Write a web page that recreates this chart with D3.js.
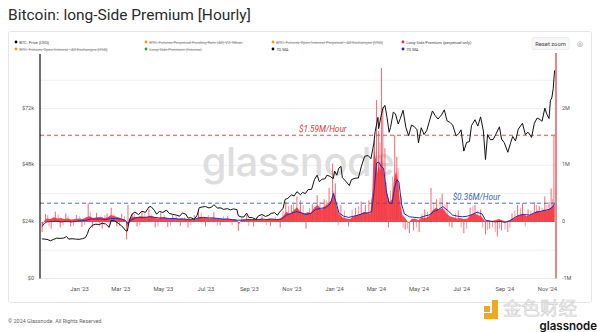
<!DOCTYPE html>
<html><head><meta charset="utf-8">
<script src="https://cdn.jsdelivr.net/npm/d3@7"></script>
<style>
html,body{margin:0;padding:0;background:#fff;}
svg{display:block;font-family:Roboto,Inter,"Noto Sans",sans-serif;}
</style></head>
<body><svg id="c" width="600" height="332"></svg>
<script>
// ---------- DATA ----------
const title = "Bitcoin: long-Side Premium [Hourly]";
const legendItems = [
  ["BTC: Price [USD]", "#000", false],
  ["BTC: Futures Perpetual Funding Rate (All) V2: Mean", "#f39c12", true],
  ["BTC: Futures Open Interest Perpetual - All Exchanges [USD]", "#f39c12", true],
  ["Long-Side Premium (perpetual only)", "#e8303a", false],
  ["BTC: Futures Open Interest - All Exchanges [USD]", "#f39c12", true],
  ["Long-Side Premium (futures)", "#2ca02c", true],
  ["7D MA", "#000", false],
  ["7D MA", "#2222aa", false]
];
const xTickLabels = ["Jan '23","Mar '23","May '23","Jul '23","Sep '23","Nov '23","Jan '24","Mar '24","May '24","Jul '24","Sep '24","Nov '24"];
const xTickDates = ["2023-01-01","2023-03-01","2023-05-01","2023-07-01","2023-09-01","2023-11-01","2024-01-01","2024-03-01","2024-05-01","2024-07-01","2024-09-01","2024-11-01"];
const leftTicks = [0, 24000, 48000, 72000];
const leftTickLabels = ["$0","$24k","$48k","$72k"];
const rightTicks = [-1e6, 0, 1e6, 2e6];
const rightTickLabels = ["-1M","0","1M","2M"];
const gridValues = [0,12000,24000,36000,48000,60000,72000,84000];
const refLines = [
  {value: 1.53e6, label: "$1.59M/Hour", color: "#e0353d", labelDate: "2023-11-12"},
  {value: 0.33e6, label: "$0.36M/Hour", color: "#3a5fc0", labelDate: "2024-06-19"}
];

// BTC price [USD]
const btcPrice = [
["2022-11-09",16800],["2022-11-12",16700],["2022-11-16",16600],["2022-11-21",16000],["2022-11-25",16500],
["2022-11-30",17100],["2022-12-05",17000],["2022-12-10",17150],["2022-12-14",17800],["2022-12-17",16700],
["2022-12-22",16850],["2022-12-27",16700],["2023-01-01",16600],["2023-01-06",16900],["2023-01-10",17300],
["2023-01-13",19000],["2023-01-15",20900],["2023-01-20",22600],["2023-01-25",23000],["2023-01-30",22900],
["2023-02-03",23400],["2023-02-08",23100],["2023-02-13",21700],["2023-02-16",24600],["2023-02-21",24400],
["2023-02-26",23400],["2023-03-03",22300],["2023-03-09",20200],["2023-03-11",20100],["2023-03-14",24700],
["2023-03-18",27300],["2023-03-22",28200],["2023-03-27",27100],["2023-04-01",28500],["2023-04-06",28000],
["2023-04-11",30300],["2023-04-14",30500],["2023-04-19",28800],["2023-04-22",27300],["2023-04-26",28400],
["2023-05-01",28000],["2023-05-06",29000],["2023-05-10",27600],["2023-05-15",27200],["2023-05-20",26900],
["2023-05-25",26400],["2023-05-29",27800],["2023-06-03",27200],["2023-06-06",25600],["2023-06-10",25800],
["2023-06-15",25100],["2023-06-19",26800],["2023-06-22",30000],["2023-06-26",30300],["2023-07-01",30500],
["2023-07-06",29900],["2023-07-10",30300],["2023-07-13",31300],["2023-07-18",29900],["2023-07-23",29900],
["2023-07-27",29300],["2023-08-01",29600],["2023-08-06",29100],["2023-08-10",29500],["2023-08-15",29200],
["2023-08-17",26600],["2023-08-21",26100],["2023-08-25",26100],["2023-08-29",27700],["2023-09-01",25900],
["2023-09-06",25800],["2023-09-11",25100],["2023-09-15",26600],["2023-09-20",27100],["2023-09-25",26300],
["2023-09-30",26900],["2023-10-03",27600],["2023-10-08",27900],["2023-10-12",26800],["2023-10-16",28500],
["2023-10-20",29600],["2023-10-23",33500],["2023-10-27",34000],["2023-11-01",35400],["2023-11-05",35000],
["2023-11-09",36800],["2023-11-14",35500],["2023-11-17",36500],["2023-11-21",36000],["2023-11-25",37700],
["2023-11-30",37800],["2023-12-04",41900],["2023-12-08",43800],["2023-12-11",41000],["2023-12-15",42100],
["2023-12-19",42200],["2023-12-22",43800],["2023-12-27",43200],["2023-12-31",42300],["2024-01-02",45500],
["2024-01-05",43800],["2024-01-08",46800],["2024-01-11",47500],["2024-01-13",42800],["2024-01-18",41200],
["2024-01-23",39400],["2024-01-26",41900],["2024-01-31",42500],["2024-02-05",42600],["2024-02-09",47300],
["2024-02-14",51800],["2024-02-19",52100],["2024-02-23",50800],["2024-02-27",57000],["2024-02-29",62200],
["2024-03-04",68300],["2024-03-05",63500],["2024-03-08",68300],["2024-03-11",72000],["2024-03-14",73400],
["2024-03-17",68300],["2024-03-20",62000],["2024-03-22",64000],["2024-03-26",70500],["2024-03-29",69800],
["2024-04-02",65500],["2024-04-05",67800],["2024-04-09",71300],["2024-04-13",64000],["2024-04-17",60500],
["2024-04-21",65000],["2024-04-25",64400],["2024-04-29",63000],["2024-05-01",57500],["2024-05-05",63900],
["2024-05-09",61000],["2024-05-13",62800],["2024-05-16",66000],["2024-05-21",71000],["2024-05-25",69000],
["2024-05-29",67600],["2024-06-03",69300],["2024-06-07",71500],["2024-06-11",66800],["2024-06-15",66200],
["2024-06-19",65000],["2024-06-24",60400],["2024-06-28",61500],["2024-07-01",63000],["2024-07-05",54000],
["2024-07-09",57700],["2024-07-13",58000],["2024-07-16",64800],["2024-07-21",67300],["2024-07-25",64600],
["2024-07-29",68500],["2024-08-02",62500],["2024-08-05",50400],["2024-08-08",61000],["2024-08-12",58800],
["2024-08-16",58900],["2024-08-20",61200],["2024-08-25",64300],["2024-08-28",59100],["2024-09-01",57500],
["2024-09-06",53500],["2024-09-10",57500],["2024-09-13",60200],["2024-09-17",58300],["2024-09-21",63300],
["2024-09-27",65800],["2024-10-01",61000],["2024-10-05",62000],["2024-10-10",59800],["2024-10-14",65800],
["2024-10-18",68000],["2024-10-22",67400],["2024-10-25",66600],["2024-10-29",72200],["2024-11-01",69500],
["2024-11-04",67800],["2024-11-06",75500],["2024-11-08",76500],["2024-11-10",80400],["2024-11-11",84500],
["2024-11-12",88200]
];

// Long-Side Premium (perpetual only) [$ / hour], base level
const premiumLevel = [
["2022-11-09",-0.10e6],["2022-11-12",0.02e6],["2022-11-16",0.06e6],["2022-11-21",0.05e6],["2022-11-26",0.08e6],
["2022-12-01",0.06e6],["2022-12-06",0.07e6],["2022-12-11",0.05e6],["2022-12-16",0.06e6],["2022-12-21",0.04e6],
["2022-12-26",0.05e6],["2023-01-01",0.06e6],["2023-01-06",0.05e6],["2023-01-11",0.08e6],["2023-01-16",0.10e6],
["2023-01-21",0.07e6],["2023-01-26",0.08e6],["2023-02-01",0.09e6],["2023-02-06",0.07e6],["2023-02-11",0.08e6],
["2023-02-16",0.12e6],["2023-02-21",0.10e6],["2023-02-26",0.08e6],["2023-03-03",0.06e6],["2023-03-08",0.03e6],
["2023-03-11",-0.10e6],["2023-03-14",0.06e6],["2023-03-19",0.09e6],["2023-03-24",0.08e6],["2023-03-29",0.10e6],
["2023-04-03",0.09e6],["2023-04-08",0.08e6],["2023-04-13",0.11e6],["2023-04-18",0.09e6],["2023-04-23",0.06e6],
["2023-04-28",0.07e6],["2023-05-03",0.08e6],["2023-05-08",0.06e6],["2023-05-13",0.05e6],["2023-05-18",0.06e6],
["2023-05-23",0.05e6],["2023-05-28",0.06e6],["2023-06-02",0.05e6],["2023-06-07",0.04e6],["2023-06-12",0.03e6],
["2023-06-17",0.04e6],["2023-06-22",0.09e6],["2023-06-27",0.08e6],["2023-07-02",0.07e6],["2023-07-07",0.06e6],
["2023-07-12",0.07e6],["2023-07-17",0.06e6],["2023-07-22",0.05e6],["2023-07-27",0.05e6],["2023-08-01",0.05e6],
["2023-08-06",0.04e6],["2023-08-11",0.04e6],["2023-08-16",0.03e6],["2023-08-18",-0.05e6],["2023-08-21",0.04e6],
["2023-08-26",0.04e6],["2023-08-31",0.05e6],["2023-09-05",0.04e6],["2023-09-10",0.04e6],["2023-09-15",0.05e6],
["2023-09-20",0.05e6],["2023-09-25",0.04e6],["2023-09-30",0.06e6],["2023-10-05",0.05e6],["2023-10-10",0.04e6],
["2023-10-15",0.05e6],["2023-10-20",0.10e6],["2023-10-25",0.18e6],["2023-10-30",0.14e6],["2023-11-04",0.20e6],
["2023-11-09",0.26e6],["2023-11-14",0.18e6],["2023-11-19",0.15e6],["2023-11-24",0.17e6],["2023-11-29",0.16e6],
["2023-12-04",0.26e6],["2023-12-09",0.30e6],["2023-12-14",0.22e6],["2023-12-19",0.28e6],["2023-12-24",0.32e6],
["2023-12-29",0.40e6],["2024-01-01",0.55e6],["2024-01-04",0.32e6],["2024-01-08",0.15e6],["2024-01-13",0.08e6],
["2024-01-19",0.06e6],["2024-01-24",0.05e6],["2024-01-29",0.10e6],["2024-02-03",0.12e6],["2024-02-08",0.14e6],
["2024-02-13",0.18e6],["2024-02-18",0.16e6],["2024-02-22",0.15e6],["2024-02-25",0.55e6],["2024-02-27",1.30e6],
["2024-03-01",1.10e6],["2024-03-03",0.85e6],["2024-03-05",1.05e6],["2024-03-07",0.90e6],["2024-03-09",1.20e6],
["2024-03-11",0.95e6],["2024-03-13",0.80e6],["2024-03-15",0.60e6],["2024-03-18",0.45e6],["2024-03-21",0.35e6],
["2024-03-24",0.40e6],["2024-03-27",0.75e6],["2024-03-30",0.90e6],["2024-04-02",0.70e6],["2024-04-05",0.30e6],
["2024-04-08",0.12e6],["2024-04-13",0.05e6],["2024-04-17",-0.02e6],["2024-04-21",0.05e6],["2024-04-26",0.06e6],
["2024-05-01",0.03e6],["2024-05-06",0.08e6],["2024-05-11",0.07e6],["2024-05-16",0.10e6],["2024-05-21",0.20e6],
["2024-05-26",0.25e6],["2024-05-31",0.22e6],["2024-06-05",0.24e6],["2024-06-10",0.15e6],["2024-06-15",0.10e6],
["2024-06-20",0.08e6],["2024-06-25",0.06e6],["2024-06-30",0.07e6],["2024-07-05",0.05e6],["2024-07-10",0.06e6],
["2024-07-15",0.12e6],["2024-07-20",0.15e6],["2024-07-25",0.12e6],["2024-07-30",0.10e6],["2024-08-04",0.02e6],
["2024-08-09",0.03e6],["2024-08-14",0.02e6],["2024-08-19",0.03e6],["2024-08-24",0.05e6],["2024-08-29",0.03e6],
["2024-09-03",0.01e6],["2024-09-08",0.03e6],["2024-09-13",0.06e6],["2024-09-18",0.08e6],["2024-09-23",0.12e6],
["2024-09-28",0.15e6],["2024-10-03",0.10e6],["2024-10-08",0.12e6],["2024-10-13",0.15e6],["2024-10-18",0.20e6],
["2024-10-23",0.18e6],["2024-10-28",0.22e6],["2024-11-02",0.20e6],["2024-11-06",0.25e6],["2024-11-10",0.28e6],
["2024-11-12",0.30e6]
];

// Long-Side Premium hourly extremes (major spikes)
const premiumSpikes = [
["2022-11-09",-0.18e6],["2022-11-14",0.14e6],["2022-11-22",-0.12e6],["2022-11-28",0.18e6],["2022-12-05",-0.10e6],
["2022-12-13",0.15e6],["2022-12-20",-0.08e6],["2022-12-28",0.12e6],["2023-01-05",-0.09e6],["2023-01-14",0.33e6],
["2023-01-20",-0.10e6],["2023-01-26",0.16e6],["2023-02-03",-0.12e6],["2023-02-10",0.15e6],["2023-02-16",0.25e6],
["2023-02-24",-0.08e6],["2023-03-03",0.14e6],["2023-03-10",-0.31e6],["2023-03-12",0.30e6],["2023-03-18",0.15e6],
["2023-03-25",-0.08e6],["2023-04-01",0.18e6],["2023-04-11",0.22e6],["2023-04-20",-0.10e6],["2023-04-28",0.16e6],
["2023-05-08",-0.09e6],["2023-05-15",0.12e6],["2023-05-26",-0.07e6],["2023-06-06",-0.10e6],["2023-06-15",0.12e6],
["2023-06-21",0.20e6],["2023-07-01",-0.08e6],["2023-07-13",0.17e6],["2023-07-22",-0.06e6],["2023-08-02",0.10e6],
["2023-08-17",-0.16e6],["2023-08-29",0.12e6],["2023-09-08",-0.08e6],["2023-09-20",0.10e6],["2023-10-02",-0.07e6],
["2023-10-16",-0.10e6],["2023-10-24",0.35e6],["2023-11-01",0.30e6],["2023-11-09",0.45e6],["2023-11-14",0.38e6],
["2023-11-22",-0.12e6],["2023-12-01",0.32e6],["2023-12-08",0.47e6],["2023-12-18",0.40e6],["2023-12-25",0.60e6],
["2023-12-30",1.03e6],["2024-01-03",0.68e6],["2024-01-11",0.30e6],["2024-01-22",-0.08e6],["2024-02-01",0.25e6],
["2024-02-09",0.36e6],["2024-02-15",0.30e6],["2024-02-20",0.38e6],["2024-02-28",1.45e6],["2024-03-02",2.15e6],
["2024-03-05",1.60e6],["2024-03-09",2.72e6],["2024-03-11",2.03e6],["2024-03-14",1.30e6],["2024-03-19",-0.10e6],
["2024-03-28",1.53e6],["2024-03-31",1.15e6],["2024-04-06",0.45e6],["2024-04-12",-0.14e6],["2024-04-18",-0.20e6],
["2024-04-24",-0.15e6],["2024-05-02",-0.18e6],["2024-05-10",0.22e6],["2024-05-19",0.60e6],["2024-05-27",0.40e6],
["2024-06-04",0.50e6],["2024-06-11",0.35e6],["2024-06-18",-0.10e6],["2024-06-27",0.20e6],["2024-07-05",-0.20e6],
["2024-07-14",0.25e6],["2024-07-21",0.30e6],["2024-07-29",0.22e6],["2024-08-05",-0.22e6],["2024-08-11",-0.12e6],
["2024-08-22",-0.26e6],["2024-08-28",-0.15e6],["2024-09-06",-0.18e6],["2024-09-12",0.15e6],["2024-09-20",0.30e6],
["2024-09-27",0.33e6],["2024-10-05",0.22e6],["2024-10-14",0.35e6],["2024-10-21",0.28e6],["2024-10-29",0.45e6],
["2024-11-04",0.35e6],["2024-11-07",0.59e6],["2024-11-11",1.52e6]
];
// Long-Side Premium hourly extremes (minor spikes)
const premiumSpikesMinor = [
["2022-11-17",0.12e6],["2022-11-19",-0.08e6],["2022-12-02",0.13e6],["2022-12-09",-0.06e6],["2022-12-16",0.11e6],
["2022-12-24",-0.07e6],["2023-01-02",0.10e6],["2023-01-09",-0.06e6],["2023-01-17",0.18e6],["2023-01-30",-0.08e6],
["2023-02-07",0.12e6],["2023-02-13",-0.10e6],["2023-02-20",0.14e6],["2023-02-28",-0.07e6],["2023-03-07",0.10e6],
["2023-03-21",0.14e6],["2023-03-29",-0.06e6],["2023-04-05",0.15e6],["2023-04-15",0.13e6],["2023-04-24",-0.08e6],
["2023-05-03",0.12e6],["2023-05-12",-0.07e6],["2023-05-20",0.10e6],["2023-06-01",0.08e6],["2023-06-10",-0.06e6],
["2023-06-25",0.16e6],["2023-07-05",0.12e6],["2023-07-18",-0.07e6],["2023-07-27",0.10e6],["2023-08-08",-0.06e6],
["2023-08-22",0.08e6],["2023-09-01",-0.07e6],["2023-09-13",0.09e6],["2023-09-26",-0.06e6],["2023-10-09",0.09e6],
["2023-10-20",0.20e6],["2023-10-28",0.28e6],["2023-11-04",0.32e6],["2023-11-18",0.30e6],["2023-11-27",0.25e6],
["2023-12-12",0.35e6],["2023-12-21",0.38e6],["2024-01-07",-0.06e6],["2024-01-16",0.20e6],["2024-01-27",0.22e6],
["2024-02-05",0.28e6],["2024-02-24",0.40e6],["2024-03-07",1.40e6],["2024-03-16",0.70e6],["2024-03-22",0.55e6],
["2024-03-25",0.80e6],["2024-04-02",0.95e6],["2024-04-09",-0.10e6],["2024-04-15",-0.12e6],["2024-04-28",-0.10e6],
["2024-05-06",0.15e6],["2024-05-14",0.18e6],["2024-05-23",0.35e6],["2024-06-01",0.42e6],["2024-06-08",0.30e6],
["2024-06-14",-0.08e6],["2024-06-23",0.15e6],["2024-07-01",-0.10e6],["2024-07-09",-0.12e6],["2024-07-18",0.28e6],
["2024-07-25",0.20e6],["2024-08-01",-0.10e6],["2024-08-08",-0.15e6],["2024-08-15",-0.10e6],["2024-08-19",-0.18e6],
["2024-08-25",-0.12e6],["2024-09-02",-0.14e6],["2024-09-09",-0.10e6],["2024-09-16",0.20e6],["2024-09-24",0.25e6],
["2024-10-01",-0.08e6],["2024-10-09",0.20e6],["2024-10-17",0.30e6],["2024-10-25",0.25e6],["2024-11-01",0.30e6],
["2024-11-09",0.40e6]
];

// 7D MA of Long-Side Premium
const premiumMA = [
["2022-11-09",-0.08e6],["2022-11-12",-0.03e6],["2022-11-16",0.00e6],["2022-11-23",0.01e6],["2022-11-30",0.01e6],
["2022-12-07",0.00e6],["2022-12-14",0.01e6],["2022-12-21",0.00e6],["2022-12-28",0.01e6],["2023-01-04",0.02e6],
["2023-01-11",0.03e6],["2023-01-18",0.05e6],["2023-01-25",0.05e6],["2023-02-01",0.05e6],["2023-02-08",0.04e6],
["2023-02-15",0.06e6],["2023-02-22",0.06e6],["2023-03-01",0.05e6],["2023-03-08",0.03e6],["2023-03-12",-0.03e6],
["2023-03-16",0.03e6],["2023-03-22",0.07e6],["2023-03-29",0.08e6],["2023-04-05",0.08e6],["2023-04-12",0.09e6],
["2023-04-19",0.08e6],["2023-04-26",0.07e6],["2023-05-03",0.07e6],["2023-05-10",0.06e6],["2023-05-17",0.06e6],
["2023-05-24",0.05e6],["2023-05-31",0.05e6],["2023-06-07",0.04e6],["2023-06-14",0.04e6],["2023-06-21",0.07e6],
["2023-06-28",0.08e6],["2023-07-05",0.07e6],["2023-07-12",0.07e6],["2023-07-19",0.06e6],["2023-07-26",0.05e6],
["2023-08-02",0.05e6],["2023-08-09",0.04e6],["2023-08-16",0.03e6],["2023-08-23",0.03e6],["2023-08-30",0.04e6],
["2023-09-06",0.04e6],["2023-09-13",0.04e6],["2023-09-20",0.05e6],["2023-09-27",0.04e6],["2023-10-04",0.05e6],
["2023-10-11",0.04e6],["2023-10-18",0.05e6],["2023-10-25",0.12e6],["2023-11-01",0.15e6],["2023-11-08",0.18e6],
["2023-11-15",0.16e6],["2023-11-22",0.13e6],["2023-11-29",0.15e6],["2023-12-06",0.22e6],["2023-12-13",0.24e6],
["2023-12-20",0.25e6],["2023-12-27",0.32e6],["2023-12-31",0.50e6],["2024-01-04",0.35e6],["2024-01-08",0.16e6],
["2024-01-15",0.10e6],["2024-01-22",0.08e6],["2024-01-29",0.10e6],["2024-02-05",0.12e6],["2024-02-12",0.15e6],
["2024-02-19",0.16e6],["2024-02-24",0.18e6],["2024-02-28",0.60e6],["2024-03-02",1.04e6],["2024-03-05",1.06e6],
["2024-03-09",0.97e6],["2024-03-12",0.95e6],["2024-03-16",0.55e6],["2024-03-20",0.33e6],["2024-03-24",0.32e6],
["2024-03-28",0.60e6],["2024-03-31",0.75e6],["2024-04-03",0.70e6],["2024-04-07",0.30e6],["2024-04-11",0.14e6],
["2024-04-18",0.09e6],["2024-04-25",0.08e6],["2024-05-02",0.07e6],["2024-05-09",0.10e6],["2024-05-16",0.12e6],
["2024-05-23",0.18e6],["2024-05-30",0.22e6],["2024-06-05",0.27e6],["2024-06-12",0.20e6],["2024-06-19",0.12e6],
["2024-06-26",0.10e6],["2024-07-03",0.09e6],["2024-07-10",0.10e6],["2024-07-17",0.13e6],["2024-07-24",0.17e6],
["2024-07-31",0.14e6],["2024-08-05",0.03e6],["2024-08-12",0.01e6],["2024-08-19",0.00e6],["2024-08-26",0.01e6],
["2024-09-02",-0.01e6],["2024-09-09",0.02e6],["2024-09-16",0.08e6],["2024-09-23",0.12e6],["2024-09-30",0.13e6],
["2024-10-07",0.12e6],["2024-10-14",0.16e6],["2024-10-21",0.18e6],["2024-10-28",0.20e6],["2024-11-04",0.22e6],
["2024-11-08",0.25e6],["2024-11-12",0.32e6]
];

// ---------- DRAW ----------
const parse = d3.utcParse("%Y-%m-%d");
const svg = d3.select("#c");
const P = {left: 40, right: 556, top: 52, bottom: 278.5};

const x = d3.scaleUtc().domain([parse("2022-11-06"), parse("2024-11-14")]).range([P.left, P.right]);
const yL = d3.scaleLinear().domain([0, 96000]).range([P.bottom, P.top]);
const yR = d3.scaleLinear().domain([-1e6, 3e6]).range([P.bottom, P.top]);

// title
svg.append("text").attr("x", 8).attr("y", 19.5).attr("font-size", 15.5).attr("fill", "#2b2b2b")
  .attr("font-family", "Roboto, sans-serif").text(title);

// card
svg.append("rect").attr("x", 8.5).attr("y", 31.5).attr("width", 583).attr("height", 271)
  .attr("fill", "#fff").attr("stroke", "#e6e6e6").attr("rx", 2);

// legend
const lg = svg.append("g").attr("font-size", 4.1).attr("fill", "#555");
const colX = [16, 146, 273, 403];
legendItems.forEach((it, i) => {
  const row = i < 4 ? 0 : 1, col = i % 4;
  const gx = colX[col], gy = row === 0 ? 42 : 49;
  lg.append("circle").attr("cx", gx).attr("cy", gy).attr("r", 1.4).attr("fill", it[1]);
  lg.append("text").attr("x", gx + 3.2).attr("y", gy + 1.5).text(it[0])
    .attr("text-decoration", it[2] ? "line-through" : null).attr("fill", it[2] ? "#888" : "#444");
});
// reset zoom button
svg.append("rect").attr("x", 532).attr("y", 37.5).attr("width", 37).attr("height", 12).attr("rx", 2)
  .attr("fill", "#f7f7f7").attr("stroke", "#eee");
svg.append("text").attr("x", 550.5).attr("y", 45.8).attr("text-anchor", "middle").attr("font-size", 5.8)
  .attr("fill", "#444").text("Reset zoom");
svg.append("text").attr("x", 580).attr("y", 46).attr("text-anchor", "middle").attr("font-size", 7)
  .attr("fill", "#777").text("◎");

// grid
svg.append("g").selectAll("line").data(gridValues.filter(v => v > 0)).join("line")
  .attr("x1", P.left).attr("x2", P.right).attr("y1", d => yL(d)).attr("y2", d => yL(d))
  .attr("stroke", "#ececec").attr("stroke-width", 0.8);
svg.append("line").attr("x1", P.left).attr("x2", P.right).attr("y1", yL(0)).attr("y2", yL(0))
  .attr("stroke", "#e4e4e4").attr("stroke-width", 0.8);

// watermark
svg.append("text").attr("x", 298).attr("y", 176).attr("text-anchor", "middle").attr("font-size", 40)
  .attr("font-family", "Inter, 'Open Sans', sans-serif").attr("font-weight", 500)
  .attr("fill", "#d6d6d6").attr("fill-opacity", 0.8).attr("letter-spacing", -0.5).text("glassnode");

// premium area
const area = d3.area().x(d => x(parse(d[0]))).y0(yR(0)).y1(d => yR(d[1]));
svg.append("path").datum(premiumLevel).attr("d", area).attr("fill", "#f5343e").attr("fill-opacity", 0.9);
// spikes
const spikeG = svg.append("g").attr("stroke", "#f03a44");
spikeG.selectAll("line.maj").data(premiumSpikes).join("line").attr("class", "maj")
  .attr("x1", d => x(parse(d[0]))).attr("x2", d => x(parse(d[0])))
  .attr("y1", yR(0)).attr("y2", d => yR(d[1]))
  .attr("stroke-width", 0.9).attr("stroke-opacity", 0.85);
spikeG.selectAll("line.min").data(premiumSpikesMinor).join("line").attr("class", "min")
  .attr("x1", d => x(parse(d[0]))).attr("x2", d => x(parse(d[0])))
  .attr("y1", yR(0)).attr("y2", d => yR(d[1]))
  .attr("stroke-width", 0.7).attr("stroke-opacity", 0.7);

// reference lines
refLines.forEach(r => {
  svg.append("line").attr("x1", P.left).attr("x2", P.right).attr("y1", yR(r.value)).attr("y2", yR(r.value))
    .attr("stroke", r.color).attr("stroke-width", 0.9).attr("stroke-dasharray", "4,3");
  svg.append("text").attr("x", x(parse(r.labelDate))).attr("y", yR(r.value) - 3.5)
    .attr("font-size", 8.2).attr("font-style", "italic").attr("fill", r.color).text(r.label);
});

// MA line
const lineR = d3.line().x(d => x(parse(d[0]))).y(d => yR(d[1]));
svg.append("path").datum(premiumMA).attr("d", lineR).attr("fill", "none")
  .attr("stroke", "#2a2ab0").attr("stroke-width", 1);

// price line
const lineL = d3.line().x(d => x(parse(d[0]))).y(d => yL(d[1]));
svg.append("path").datum(btcPrice).attr("d", lineL).attr("fill", "none")
  .attr("stroke", "#111").attr("stroke-width", 1);

// axes lines
svg.append("line").attr("x1", P.left).attr("x2", P.left).attr("y1", 54).attr("y2", P.bottom)
  .attr("stroke", "#111").attr("stroke-width", 1.2);
svg.append("line").attr("x1", P.right).attr("x2", P.right).attr("y1", 53).attr("y2", P.bottom)
  .attr("stroke", "#d2353b").attr("stroke-width", 1.2);

// left axis labels
const axL = d3.axisLeft(yL).tickValues(leftTicks).tickSize(0).tickPadding(6)
  .tickFormat((d, i) => leftTickLabels[i]);
const gL = svg.append("g").attr("transform", `translate(${P.left},0)`).call(axL);
gL.select(".domain").remove();
gL.selectAll("text").attr("font-size", 5.5).attr("fill", "#555").attr("dy", "0.1em")
  .attr("font-family", "Roboto, sans-serif");

// right axis labels
const axR = d3.axisRight(yR).tickValues(rightTicks).tickSize(0).tickPadding(6)
  .tickFormat((d, i) => rightTickLabels[i]);
const gR = svg.append("g").attr("transform", `translate(${P.right},0)`).call(axR);
gR.select(".domain").remove();
gR.selectAll("text").attr("font-size", 5.5).attr("fill", "#555").attr("dy", "0.1em")
  .attr("font-family", "Roboto, sans-serif");

// x axis
const axX = d3.axisBottom(x).tickValues(xTickDates.map(parse)).tickSize(0).tickPadding(8)
  .tickFormat((d, i) => xTickLabels[i]);
const gX = svg.append("g").attr("transform", `translate(0,${P.bottom})`).call(axX);
gX.select(".domain").remove();
gX.selectAll("text").attr("font-size", 5.8).attr("fill", "#555").attr("font-family", "Roboto, sans-serif");

// footer
svg.append("text").attr("x", 8).attr("y", 323).attr("font-size", 5.4).attr("fill", "#666").text("© 2024 Glassnode. All Rights Reserved.");

// bottom-right watermark logo
svg.append("rect").attr("x", 484).attr("y", 306).attr("width", 6).attr("height", 6).attr("fill", "#f0a81c");
svg.append("path").attr("d", "M492,300 h6 v19 h-14 v-6 h8 z").attr("fill", "#f0a81c");
svg.append("text").attr("x", 503).attr("y", 315).attr("font-size", 18.5)
  .attr("font-family", "'Noto Sans CJK SC', sans-serif").attr("fill", "#f2f2f2")
  .attr("stroke", "#cfcfcf").attr("stroke-width", 0.6).text("金色财经");
svg.append("text").attr("x", 597).attr("y", 330).attr("text-anchor", "end").attr("font-size", 11.5)
  .attr("font-weight", 600).attr("fill", "#111").attr("font-family", "Inter, sans-serif").text("glassnode");
</script></body></html>
